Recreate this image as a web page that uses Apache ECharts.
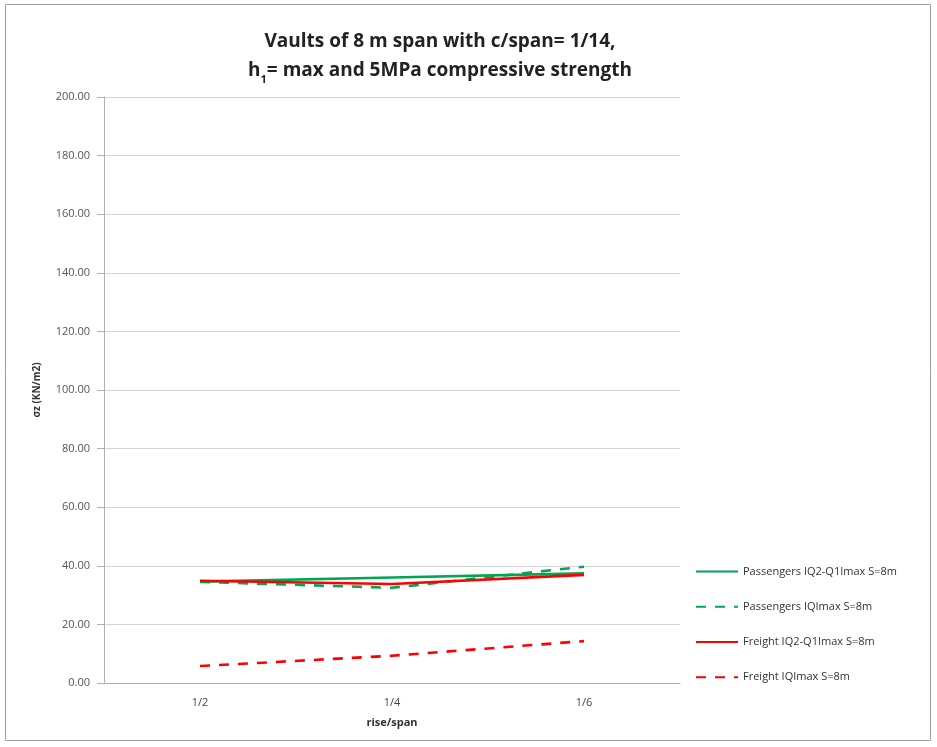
<!DOCTYPE html>
<html><head><meta charset="utf-8">
<script src="https://cdn.jsdelivr.net/npm/echarts@6/dist/echarts.min.js"></script>
<style>html,body{margin:0;padding:0;background:#fff}#c{width:937px;height:747px}</style>
</head><body><div id="c"></div>
<script>
var categories = ['1/2', '1/4', '1/6'];
var yTickLabels = ['0.00','20.00','40.00','60.00','80.00','100.00','120.00','140.00','160.00','180.00','200.00'];
var seriesNames = ['Passengers IQ2-Q1Imax S=8m','Passengers IQImax S=8m','Freight IQ2-Q1Imax S=8m','Freight IQImax S=8m'];
var passengersQ2Q1 = [34.6, 36.0, 37.4];
var passengersQmax = [34.5, 32.5, 39.7];
var freightQ2Q1 = [34.9, 33.8, 36.9];
var freightQmax = [5.8, 9.3, 14.3];

var green = '#00a651', red = '#ff0000';
function mk(name, data, color, dashed) {
  return {
    name: name, type: 'line', data: data, symbol: 'none', smooth: false,
    lineStyle: { color: color, width: 2.6, type: dashed ? [10, 9] : 'solid' },
    itemStyle: { color: color }
  };
}
var chart = echarts.init(document.getElementById('c'), null, { renderer: 'canvas' });
chart.setOption({
  animation: false,
  backgroundColor: '#fff',
  graphic: [{ type: 'rect', shape: { x: 5.5, y: 4.5, width: 925, height: 736 }, style: { fill: 'none', stroke: '#a0a0a0', lineWidth: 1 }, silent: true }],
  title: {
    text: 'Vaults of 8 m span with c/span= 1/14,\n{a|h}{s|1}{a|= max and 5MPa compressive strength}',
    left: 435, textAlign: 'center', top: 22,
    textStyle: {
      fontFamily: 'Open Sans', fontSize: 19, fontWeight: 'bold', color: '#222', lineHeight: 29,
      rich: {
        a: { fontFamily: 'Open Sans', fontSize: 19, fontWeight: 'bold', color: '#222', lineHeight: 29 },
        s: { fontFamily: 'Open Sans', fontSize: 11, fontWeight: 'bold', color: '#222', verticalAlign: 'bottom', padding: [10, 0, 0, 0], lineHeight: 29 }
      }
    }
  },
  grid: { left: 104, right: 257, top: 97, bottom: 64, containLabel: false },
  legend: {
    orient: 'vertical', left: 690, top: 561, itemWidth: 42, itemHeight: 14, itemGap: 24,
    itemStyle: { color: 'transparent', borderWidth: 0, opacity: 0 },
    textStyle: { fontFamily: 'Open Sans', fontSize: 11, color: '#333' },
    data: seriesNames
  },
  xAxis: {
    type: 'category', data: categories, boundaryGap: true,
    name: 'rise/span', nameLocation: 'middle', nameGap: 34,
    nameTextStyle: { fontFamily: 'Open Sans', fontSize: 11, fontWeight: 'bold', color: '#333' },
    axisLine: { lineStyle: { color: '#b0b0b0' } },
    axisTick: { show: false },
    axisLabel: { fontFamily: 'Open Sans', fontSize: 11, color: '#444', margin: 14 }
  },
  yAxis: {
    type: 'value', min: 0, max: 200, interval: 20,
    name: 'σz (KN/m2)', nameLocation: 'middle', nameGap: 62, nameRotate: 90,
    nameTextStyle: { fontFamily: 'Open Sans', fontSize: 10, fontWeight: 'bold', color: '#333' },
    axisLine: { show: true, lineStyle: { color: '#b0b0b0' } },
    axisTick: { show: true, length: 7, inside: false, lineStyle: { color: '#b0b0b0' } },
    axisLabel: { fontFamily: 'Open Sans', fontSize: 11, color: '#555', margin: 14,
      formatter: function (v) { return yTickLabels[Math.round(v / 20)]; } },
    splitLine: { lineStyle: { color: '#d4d4d4' } }
  },
  series: [
    mk(seriesNames[0], passengersQ2Q1, green, false),
    mk(seriesNames[1], passengersQmax, green, true),
    mk(seriesNames[2], freightQ2Q1, red, false),
    mk(seriesNames[3], freightQmax, red, true)
  ]
});
</script></body></html>
